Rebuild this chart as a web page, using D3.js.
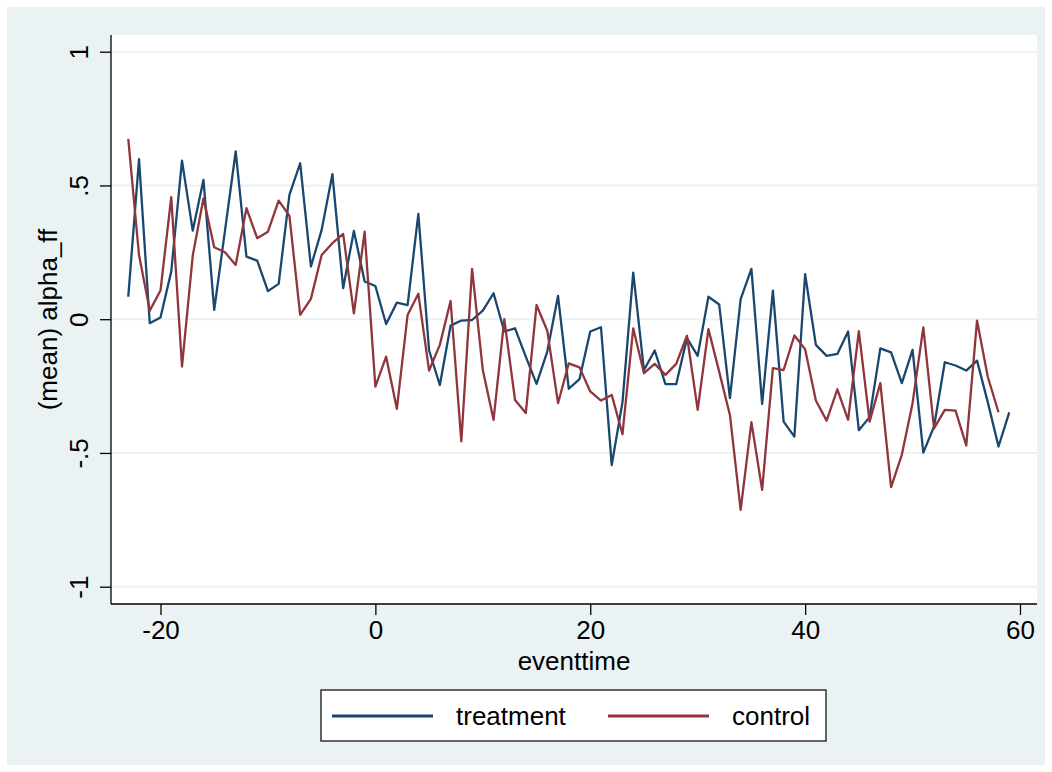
<!DOCTYPE html>
<html>
<head>
<meta charset="utf-8">
<script src="https://cdn.jsdelivr.net/npm/d3@7"></script>
<style>
  body { margin: 0; background: #fff; }
  text { font-family: "Liberation Sans", Arial, Helvetica, sans-serif; fill: #000; }
</style>
</head>
<body>
<svg id="chart" width="1052" height="772"></svg>
<script>
// eventtime values for each series
const treatmentTime = [-23,-22,-21,-20,-19,-18,-17,-16,-15,-14,-13,-12,-11,-10,-9,-8,-7,-6,-5,-4,-3,-2,-1,
  0,1,2,3,4,5,6,7,8,9,10,11,12,13,14,15,16,17,18,19,20,21,22,23,24,25,26,27,28,29,
  30,31,32,33,34,35,36,37,38,39,40,41,42,43,44,45,46,47,48,49,50,51,52,53,54,55,56,57,58,59];
const controlTime = treatmentTime.slice(0, treatmentTime.length - 1);

// (mean) alpha_ff
const treatment = [0.084,0.598,-0.015,0.006,0.178,0.593,0.331,0.521,0.035,0.33,0.627,0.234,0.219,0.105,
  0.132,0.465,0.583,0.197,0.334,0.542,0.116,0.330,0.141,0.124,-0.018,0.062,0.053,0.394,-0.117,-0.246,
  -0.024,-0.005,-0.003,0.032,0.097,-0.046,-0.034,-0.140,-0.242,-0.121,0.087,-0.260,-0.224,-0.046,-0.030,
  -0.545,-0.31,0.174,-0.190,-0.117,-0.243,-0.243,-0.071,-0.137,0.084,0.055,-0.295,0.075,0.188,-0.317,
  0.107,-0.383,-0.439,0.168,-0.096,-0.137,-0.130,-0.046,-0.415,-0.366,-0.109,-0.124,-0.239,-0.115,
  -0.499,-0.401,-0.161,-0.173,-0.192,-0.155,-0.31,-0.476,-0.348];
const control = [0.674,0.240,0.032,0.107,0.456,-0.177,0.237,0.452,0.269,0.25,0.203,0.415,0.303,0.327,
  0.443,0.386,0.016,0.076,0.240,0.284,0.319,0.022,0.327,-0.252,-0.140,-0.335,0.016,0.095,-0.192,-0.096,
  0.068,-0.457,0.188,-0.190,-0.376,0.000,-0.302,-0.351,0.053,-0.043,-0.314,-0.165,-0.180,-0.270,-0.304,
  -0.283,-0.430,-0.034,-0.202,-0.167,-0.208,-0.167,-0.062,-0.339,-0.037,-0.196,-0.358,-0.713,-0.385,
  -0.638,-0.183,-0.190,-0.061,-0.112,-0.304,-0.379,-0.262,-0.376,-0.045,-0.383,-0.239,-0.628,-0.507,
  -0.314,-0.031,-0.408,-0.339,-0.342,-0.472,-0.005,-0.215,-0.348];

// tick labels
const xTicks = [-20, 0, 20, 40, 60];
const xTickLabels = ["-20", "0", "20", "40", "60"];
const yTicks = [-1, -0.5, 0, 0.5, 1];
const yTickLabels = ["-1", "-.5", "0", ".5", "1"];

const seriesNames = ["treatment", "control"];
const seriesColors = ["#1a476f", "#90353b"];

const svg = d3.select("#chart");

// Plot region
const plot = { left: 111, right: 1037, top: 35, bottom: 604 };

// Stata-like background
svg.append("rect")
  .attr("x", 7).attr("y", 7)
  .attr("width", 1038).attr("height", 758)
  .attr("fill", "#eaf2f3");

svg.append("rect")
  .attr("x", plot.left).attr("y", plot.top)
  .attr("width", plot.right - plot.left).attr("height", plot.bottom - plot.top)
  .attr("fill", "#fff");

// Scales
const x = d3.scaleLinear().domain([-20, 60]).range([160.5, 1020]);
const y = d3.scaleLinear().domain([-1, 1]).range([586.7, 51.7]);

// Gridlines
svg.append("g")
  .selectAll("line")
  .data(yTicks)
  .enter().append("line")
  .attr("x1", plot.left).attr("x2", plot.right)
  .attr("y1", d => y(d)).attr("y2", d => y(d))
  .attr("stroke", "#eaf2f3")
  .attr("stroke-width", 2);

// Axes
const xAxis = d3.axisBottom(x).tickValues(xTicks).tickSize(11).tickPadding(6)
  .tickFormat((d, i) => xTickLabels[i]);
const gx = svg.append("g")
  .attr("transform", "translate(0," + plot.bottom + ")")
  .call(xAxis);
gx.select(".domain").remove();
gx.append("line")
  .attr("x1", plot.left).attr("x2", plot.right)
  .attr("y1", 0).attr("y2", 0)
  .attr("stroke", "#000").attr("stroke-width", 1.3);
gx.selectAll(".tick line").attr("stroke", "#000").attr("stroke-width", 1.3);
gx.selectAll(".tick text")
  .attr("font-size", 26)
  .attr("font-family", "Liberation Sans, Arial, sans-serif")
  .attr("fill", "#000");

const yAxis = d3.axisLeft(y).tickValues(yTicks).tickSize(11).tickFormat((d, i) => yTickLabels[i]);
const gy = svg.append("g")
  .attr("transform", "translate(" + plot.left + ",0)")
  .call(yAxis);
gy.select(".domain").remove();
gy.append("line")
  .attr("x1", 0).attr("x2", 0)
  .attr("y1", plot.top).attr("y2", plot.bottom)
  .attr("stroke", "#000").attr("stroke-width", 1.3);
gy.selectAll(".tick line").attr("stroke", "#000").attr("stroke-width", 1.3);
// rotate y tick labels like Stata does
gy.selectAll(".tick text")
  .attr("x", null).attr("dy", null)
  .attr("transform", "translate(-23,0) rotate(-90)")
  .attr("text-anchor", "middle")
  .attr("font-size", 26)
  .attr("font-family", "Liberation Sans, Arial, sans-serif")
  .attr("fill", "#000");

// Axis titles
svg.append("text")
  .attr("x", (plot.left + plot.right) / 2)
  .attr("y", 670)
  .attr("text-anchor", "middle")
  .attr("font-size", 26)
  .text("eventtime");

svg.append("text")
  .attr("transform", "translate(57," + ((plot.top + plot.bottom) / 2) + ") rotate(-90)")
  .attr("text-anchor", "middle")
  .attr("font-size", 26)
  .text("(mean) alpha_ff");

// Lines
const line = d3.line()
  .x(d => x(d[0]))
  .y(d => y(d[1]));

const treatmentData = treatmentTime.map((t, i) => [t, treatment[i]]);
const controlData = controlTime.map((t, i) => [t, control[i]]);

svg.append("path")
  .datum(treatmentData)
  .attr("d", line)
  .attr("fill", "none")
  .attr("stroke", seriesColors[0])
  .attr("stroke-width", 2.3)
  .attr("stroke-linejoin", "round");

svg.append("path")
  .datum(controlData)
  .attr("d", line)
  .attr("fill", "none")
  .attr("stroke", seriesColors[1])
  .attr("stroke-width", 2.3)
  .attr("stroke-linejoin", "round");

// Legend
const legend = svg.append("g").attr("class", "legend");
legend.append("rect")
  .attr("x", 321).attr("y", 690)
  .attr("width", 505).attr("height", 51)
  .attr("fill", "#fff")
  .attr("stroke", "#000")
  .attr("stroke-width", 1.2);

const legendX = [332, 608];
seriesNames.forEach((name, i) => {
  legend.append("line")
    .attr("x1", legendX[i]).attr("x2", legendX[i] + 101)
    .attr("y1", 716).attr("y2", 716)
    .attr("stroke", seriesColors[i])
    .attr("stroke-width", 3);
  legend.append("text")
    .attr("x", legendX[i] + 124)
    .attr("y", 725)
    .attr("font-size", 26)
    .text(name);
});
</script>
</body>
</html>
